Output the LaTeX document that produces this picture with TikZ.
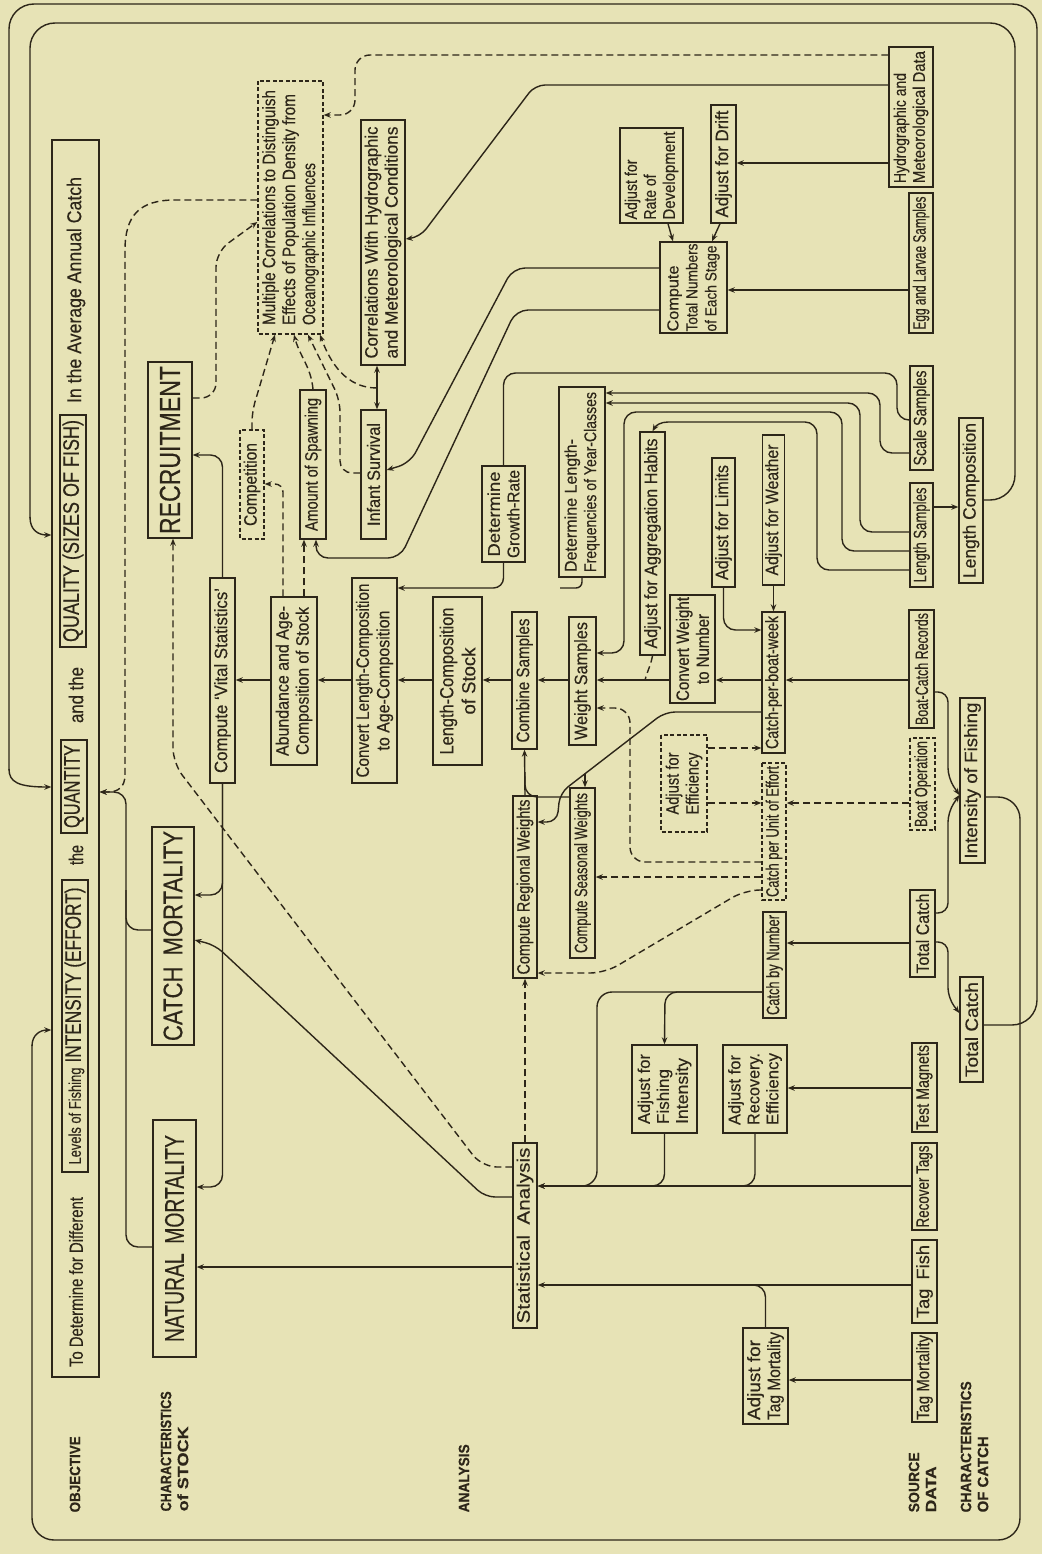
\documentclass[tikz,border=0pt]{standalone}
\usepackage{graphicx}
\usepackage{fontspec}
\setmainfont{Liberation Sans}[FakeBold=0.3]
\usetikzlibrary{arrows.meta,calc}
\definecolor{paper}{RGB}{231,227,182}
\definecolor{ink}{RGB}{45,38,25}
\newcommand\fs[2]{\fontsize{#1}{#2}\selectfont}
\newcommand\fw[2]{\resizebox{#1pt}{\height}{#2}}
\begin{document}
\begin{tikzpicture}[x=1pt,y=-1pt,color=ink,line width=1.4pt,
  box/.style={draw, rotate=90, inner sep=1pt, align=center, font=\fs{18}{20}},
  sz/.style 2 args={minimum width=#1pt, minimum height=#2pt},
  dbox/.style={box, dash pattern=on 4pt off 2.5pt},
  txt/.style={rotate=90, inner sep=0pt},
  lab/.style={rotate=90, inner sep=0pt, anchor=north west, align=left, font=\bfseries\fs{15}{17}},
  arr/.style={-{Stealth[length=7pt,width=5.5pt]}},
  dsh/.style={dash pattern=on 7pt off 4pt},
  darr/.style={arr, dsh},
  rc/.style={rounded corners=#1pt}, rc/.default=12]
\fill[paper] (0,0) rectangle (1042,1554);
\useasboundingbox (0,0) rectangle (1042,1554);

% ---------- objective ----------
\node[draw, rotate=90, sz={1237}{47}] (obj) at (75.5,758.5) {};
\node[txt, font=\fs{19}{19}] (ttodet) at (76,1282) {\fw{170}{To Determine for Different}};
\node[box, sz={292}{26}] (levels) at (75,1026) {{\fs{17}{17}\fw{97}{Levels of Fishing}}\ {\fs{22.5}{22.5}\fw{175}{INTENSITY (EFFORT)}}};
\node[txt, font=\fs{20}{20}] (tthe) at (76,855) {\fw{20}{the}};
\node[box, sz={93}{26}, font=\fs{22.5}{22.5}] (quant) at (74,786.5) {\fw{83}{QUANTITY}};
\node[txt, font=\fs{20}{20}] (tand) at (76,695) {\fw{56}{and the}};
\node[box, sz={232}{26}, font=\fs{22.5}{22.5}] (qual) at (73,531) {\fw{222}{QUALITY (SIZES OF FISH)}};
\node[txt, font=\fs{20}{20}] (tavg) at (76,290) {\fw{226}{In the Average Annual Catch}};

% ---------- stock ----------
\node[box, sz={176}{44}, font=\fs{29}{29}] (recruit) at (170,450) {\fw{168}{RECRUITMENT}};
\node[box, sz={218}{42}, font=\fs{27}{27}] (cm) at (173,936) {\fw{210}{CATCH\enspace MORTALITY}};
\node[box, sz={237}{43}, font=\fs{27}{27}] (nm) at (174.5,1238.5) {\fw{207}{NATURAL\enspace MORTALITY}};

% ---------- labels ----------
\node[lab] (lobj) at (69,1513) {\fw{76}{OBJECTIVE}};
\node[lab] (lstock) at (160,1512) {\fw{120}{CHARACTERISTICS}\\\fw{85}{of STOCK}};
\node[lab] (lanal) at (458,1513) {\fw{68}{ANALYSIS}};
\node[lab] (lsrc) at (908,1513) {\fw{60}{SOURCE}\\\fw{46}{DATA}};
\node[lab] (lcatch) at (960,1513) {\fw{131}{CHARACTERISTICS}\\\fw{76}{OF CATCH}};

% ---------- analysis ----------
\node[box, sz={205}{25}] (cvs) at (222.5,680.5) {\fw{185}{Compute ‘Vital Statistics’}};
\node[box, sz={168}{46}, font=\fs{18}{20}] (abund) at (294,681) {\fw{150}{Abundance and Age-}\\\fw{148}{Composition of Stock}};
\node[dbox, sz={109}{24}] (compet) at (252,484.5) {\fw{83}{Competition}};
\node[box, sz={149}{26}] (spawn) at (313,464.5) {\fw{133}{Amount of Spawning}};
\node[dbox, sz={253}{65}, align=left, font=\fs{18}{20}] (mc) at (290.5,207.5) {\fw{235}{Multiple Correlations to Distinguish}\\\fw{231}{Effects of Population Density from}\\\fw{162}{Oceanographic Influences}};
\node[box, sz={129}{25}] (infant) at (373.5,474.5) {\fw{103}{Infant Survival}};
\node[box, sz={245}{44}, font=\fs{18}{20}] (corrhyd) at (383,242.5) {\fw{232}{Correlations With Hydrographic}\\\fw{232}{and Meteorological Conditions}};
\node[box, sz={96}{43}, font=\fs{17}{19.5}] (dgr) at (503.5,514) {\fw{85}{Determine}\\\fw{88}{Growth-Rate}};
\node[box, sz={190}{46}, align=left, font=\fs{17}{19.5}] (dlf) at (582,482) {\fw{133}{Determine Length-}\\\fw{180}{Frequencies of Year-Classes}};
\node[box, sz={223}{25}] (aah) at (652.5,543.5) {\fw{210}{Adjust for Aggregation Habits}};
\node[box, sz={129}{23}] (afl) at (723.5,522.5) {\fw{115}{Adjust for Limits}};
\node[box, sz={150}{22}] (afw) at (773.5,510) {\fw{131}{Adjust for Weather}};
\node[box, sz={104}{23}] (scale) at (921.5,418) {\fw{95}{Scale Samples}};
\node[box, sz={104}{23}] (lensamp) at (921.5,535) {\fw{95}{Length Samples}};
\node[box, sz={165}{24}] (lencomp) at (971,500.5) {\fw{155}{Length Composition}};
\node[box, sz={95}{63}, align=left, font=\fs{17}{19}] (arrd) at (651.5,175.5) {\fw{60}{Adjust for}\\\fw{45}{Rate of}\\\fw{88}{Development}};
\node[box, sz={91}{67}, align=left, font=\fs{16}{19}] (ctn) at (693.5,287.5) {\fw{66}{Compute}\\\fw{88}{Total Numbers}\\\fw{86}{of Each Stage}};
\node[box, sz={118}{25}] (adrift) at (723.5,164) {\fw{107}{Adjust for Drift}};
\node[box, sz={140}{44}, align=left, font=\fs{17}{19}] (hydro) at (911,117) {\fw{110}{Hydrographic and}\\\fw{132}{Meteorological Data}};
\node[box, sz={140}{24}] (egg) at (921,263) {\fw{133}{Egg and Larvae Samples}};
\node[box, sz={108}{45}, font=\fs{18}{20}] (cwn) at (692.5,649) {\fw{104}{Convert Weight}\\\fw{70}{to Number}};
\node[box, sz={141}{23}] (cpbw) at (773.5,682.5) {\fw{133}{Catch-per-boat-week}};
\node[box, sz={128}{27}] (ws) at (582.5,681) {\fw{118}{Weight Samples}};
\node[box, sz={137}{25}] (cs) at (524.5,680.5) {\fw{124}{Combine Samples}};
\node[box, sz={168}{49}, font=\fs{19}{22}] (lcs) at (457.5,681) {\fw{147}{Length-Composition}\\\fw{67}{of Stock}};
\node[box, sz={205}{45}, font=\fs{18}{20.5}] (clc) at (374.5,680.5) {\fw{194}{Convert Length-Composition}\\\fw{140}{to Age-Composition}};
\node[box, sz={182}{24}] (crw) at (525,887) {\fw{175}{Compute Regional Weights}};
\node[box, sz={170}{25}] (csw) at (582.5,873) {\fw{160}{Compute Seasonal Weights}};
\node[dbox, sz={97}{46}, align=left, font=\fs{18}{20}] (afe) at (684,783.5) {\fw{62}{Adjust for}\\\fw{62}{Efficiency}};
\node[dbox, sz={137}{24}] (cpue) at (774,831.5) {\fw{131}{Catch per Unit of Effort}};
\node[box, sz={106}{23}] (cbn) at (774.5,965) {\fw{100}{Catch by Number}};
\node[box, sz={118}{25}] (bcr) at (921.5,669) {\fw{112}{Boat-Catch Records}};
\node[dbox, sz={92}{25}] (bop) at (922.5,784) {\fw{86}{Boat Operation}};
\node[box, sz={165}{25}] (iof) at (972.5,780.5) {\fw{156}{Intensity of Fishing}};
\node[box, sz={87}{25}] (tc1) at (922.5,933.5) {\fw{80}{Total Catch}};
\node[box, sz={105}{23}] (tc2) at (971.5,1029.5) {\fw{95}{Total Catch}};
\node[box, sz={88}{65}, align=left, font=\fs{17}{19}] (affi) at (664.5,1089) {\fw{70}{Adjust for}\\\fw{55}{Fishing}\\\fw{66}{Intensity}};
\node[box, sz={88}{64}, align=left, font=\fs{17}{19}] (afre) at (755,1089) {\fw{70}{Adjust for}\\\fw{72}{Recovery.}\\\fw{72}{Efficiency}};
\node[box, sz={185}{24}] (sa) at (525,1235.5) {\fw{176}{Statistical\enspace Analysis}};
\node[box, sz={89}{25}] (tm) at (924.5,1087.5) {\fw{85}{Test Magnets}};
\node[box, sz={87}{25}] (rt) at (924.5,1186.5) {\fw{82}{Recover Tags}};
\node[box, sz={83}{25}] (tf) at (924.5,1281.5) {\fw{73}{Tag\enspace Fish}};
\node[box, sz={89}{25}] (tmort) at (924.5,1377.5) {\fw{85}{Tag Mortality}};
\node[box, sz={96}{45}, align=left, font=\fs{18}{20}] (atm) at (765.5,1376) {\fw{80}{Adjust for}\\\fw{88}{Tag Mortality}};

% ---------- helper coordinates ----------
\coordinate (biar) at (377,388);
\coordinate (brk) at (585,774);
\coordinate (aahj) at (645,680);

% ---------- main chain ----------
\draw[arr] (bcr.north|-0,680) -- (cpbw.south|-0,680);
\draw[arr] (cpbw.north|-0,680) -- (cwn.south|-0,680);
\draw[arr] (cwn.north|-0,680) -- (ws.south|-0,680);
\draw[arr] (ws.north|-0,680) -- (cs.south|-0,680);
\draw[arr] (cs.north|-0,680) -- (lcs.south|-0,680);
\draw[arr] (lcs.north|-0,680) -- (clc.south|-0,680);
\draw[arr] (clc.north|-0,680) -- (abund.south|-0,680);
\draw[arr] (abund.north|-0,680) -- (cvs.south|-0,680);

% ---------- vital statistics outputs ----------
\draw[arr,rc] (cvs.east) |- (recruit.south|-0,455);
\draw[arr,rc] (cvs.west) |- (cm.south|-0,895);
\draw[arr,rc] (cvs.west) |- (nm.south|-0,1187);

% ---------- abundance / spawning / competition ----------
\draw[darr,rc=8] (abund.east-|283,0) |- (compet.south|-0,484);
\draw[darr] (abund.east-|304,0) -- (spawn.west-|304,0);
\draw[darr,rc=10] (compet.east) -- (252,412) -- (mc.west-|275,0);
\draw[darr] (spawn.east) to[out=95,in=-75] (mc.west-|294,0);
\draw[darr,rc] (infant.north|-0,473) -- (340,473) -- (340,400) -- (mc.west-|308,0);
\draw[darr] (biar) to[out=180,in=-70] (mc.west-|320,0);
\draw[{Stealth[length=7pt,width=5.5pt]}-{Stealth[length=7pt,width=5.5pt]}] (corrhyd.west-|377,0) -- (infant.east-|377,0);
\draw[darr,rc=15] (recruit.south|-0,398) -- (216,398) -- (216,252) -- (mc.north|-0,222);
\draw[darr] (mc.north|-0,200) -- (175,200) .. controls (140,200) and (125,215) .. (125,250) -- (125,775) .. controls (125,787) and (118,792) .. (108,792) -- (obj.south|-0,792);
\draw[arr,rc] (nm.north|-0,1247) -- (126,1247) -- (126,792) -- (obj.south|-0,792);
\draw[rc] (cm.north|-0,930) -- (126,930) -- (126,890);

% ---------- statistical analysis ----------
\draw[darr,rc=15] (sa.north|-0,1167) -- (482,1167) -- (173,763) -- (recruit.west-|173,0);
\draw[arr,rc=10] (sa.north|-0,1197) -- (485,1197) -- (215,945) -- (cm.south|-0,940);
\draw[arr] (sa.north|-0,1267) -- (nm.south|-0,1267);
\draw[darr] (sa.east) -- (crw.west);
\draw[arr] (rt.north|-0,1186) -- (sa.south|-0,1186);
\draw[arr,rc=15] (cbn.north|-0,992) -- (597,992) -- (597,1186) -- (sa.south|-0,1186);
\draw[arr,rc] (cbn.north|-0,992) -- (665,992) -- (affi.east);
\draw[rc] (affi.west) |- (640,1186);
\draw[rc] (afre.west) |- (730,1186);
\draw[arr] (tm.north|-0,1088) -- (afre.south|-0,1088);
\draw[arr] (tf.north|-0,1285) -- (sa.south|-0,1285);
\draw[rc] (atm.east) |- (740,1285);
\draw[arr] (tmort.north|-0,1380) -- (atm.south|-0,1380);

% ---------- weights ----------
\draw[arr] (crw.east) -- (cs.west);
\draw[rc] (csw.north|-0,797) -- (525,797) -- (525,772);
\draw[arr,rc=10] (cpbw.north|-0,712) -- (665,712) -- (560,793) -- (557,822) -- (crw.south|-0,822);
\draw[arr] (brk) -- (csw.east-|585,0);
\draw[darr] (afe.south|-0,748) -- (cpbw.north|-0,748);
\draw[darr] (afe.south|-0,803) -- (cpue.north|-0,803);
\draw[darr] (bop.north|-0,803) -- (cpue.south|-0,803);
\draw[darr,rc=15] (cpue.north|-0,862) -- (630,862) -- (630,708) -- (ws.south|-0,708);
\draw[darr] (cpue.north|-0,877) -- (csw.south|-0,877);
\draw[darr,rc=15] (cpue.north|-0,890) -- (745,890) -- (605,973) -- (crw.south|-0,973);
\draw[arr,rc] (afl.west) |- (cpbw.north|-0,630);
\draw[arr] (afw.west) -- (cpbw.east);
\draw[dsh] (aah.west) to[out=-100,in=75] (aahj);

% ---------- samples bundle ----------
\draw[rc] (scale.north|-0,420) -- (897,420) -- (897,373) -- (503.5,373) -- (dgr.east);
\draw[arr,rc] (scale.north|-0,453) -- (880,453) -- (880,393) -- (dlf.south|-0,393);
\draw[arr,rc] (lensamp.north|-0,532) -- (860,532) -- (860,403) -- (dlf.south|-0,403);
\draw[arr,rc] (lensamp.north|-0,551) -- (842,551) -- (842,412) -- (624,412) -- (624,653) -- (ws.south|-0,653);
\draw[rc] (lensamp.north|-0,570) -- (817,570) -- (817,422) -- (668,422);
\draw[arr] (668,422) to[out=180,in=60] (aah.east);
\draw[arr] (lensamp.south|-0,507) -- (lencomp.north|-0,507);
\draw[arr,rc=10] (dgr.west) |- (clc.south|-0,588);
\draw[rc=6] (dlf.west) |- (560,588);

% ---------- egg / hydro ----------
\draw[arr] (egg.north|-0,290) -- (ctn.south|-0,290);
\draw[arr] (arrd.west-|668,0) -- (ctn.east-|673,0);
\draw[arr] (adrift.west-|720,0) -- (ctn.east-|712,0);
\draw[arr,rc] (ctn.north|-0,268) -- (513,268) -- (410,463) -- (infant.south|-0,470);
\draw[arr,rc] (ctn.north|-0,310) -- (516,310) -- (400,558) -- (316,558) -- (spawn.west-|316,0);
\draw[arr] (hydro.north|-0,163) -- (adrift.south|-0,163);
\draw[arr,rc=10] (hydro.north|-0,85) -- (535,85) -- (420,237) -- (corrhyd.south|-0,239);
\draw[darr,rc=15] (hydro.north|-0,55) -- (355,55) -- (355,115) -- (mc.south|-0,115);

% ---------- intensity / catch ----------
\draw[arr,rc=10] (bcr.south|-0,692) -- (948,692) -- (948,778) -- (iof.north|-0,795);
\draw[arr,rc=10] (tc1.south|-0,913) -- (948,913) -- (948,812) -- (iof.north|-0,795);
\draw[arr,rc=10] (tc1.south|-0,942) -- (948,942) -- (948,998) -- (tc2.north|-0,1013);
\draw[arr] (tc1.north|-0,943) -- (cbn.south|-0,943);

% ---------- big loops ----------
\draw[rc=22] (iof.south|-0,797) -- (1020,797) -- (1020,1540) -- (32,1540) -- (32,1045);
\draw[arr] (32,1046) .. controls (32,1035) and (40,1030) .. (obj.north|-0,1030);
\draw[rc=25] (tc2.south|-0,1025) -- (1037,1025) -- (1037,4) -- (9,4) -- (9,770);
\draw[arr] (9,769) .. controls (9,782) and (18,787) .. (obj.north|-0,787);
\draw[rc=25] (lencomp.south|-0,500) -- (1015,500) -- (1015,23) -- (30,23) -- (30,518);
\draw[arr] (30,517) .. controls (30,530) and (38,535) .. (obj.north|-0,535);
\end{tikzpicture}
\end{document}
